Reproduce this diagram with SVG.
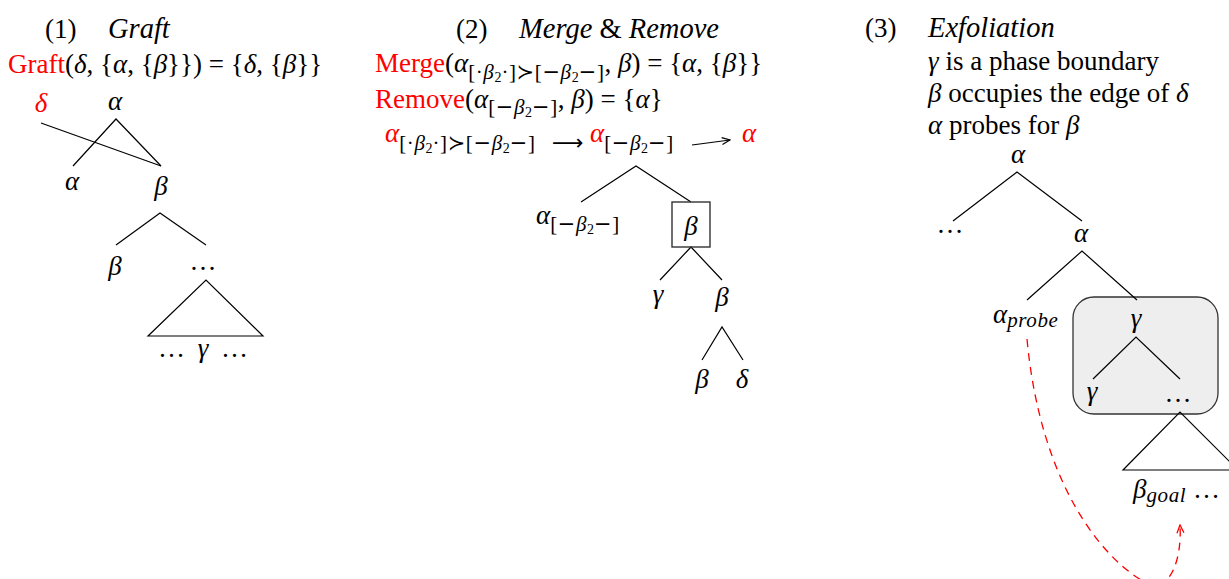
<svg xmlns="http://www.w3.org/2000/svg" width="1229" height="579" viewBox="0 0 1229 579">
<style>
.t{font-size:27px;fill:#000}
.h{font-size:28.5px}
.i{font-style:italic}
.r{fill:#ff0000}
.s{font-size:21px;letter-spacing:0.6px}
.ss{font-size:14px;letter-spacing:0}
.e{stroke:#000;stroke-width:1.2;fill:none}
.m{text-anchor:middle}
</style>
<defs>
<marker id="ahk" viewBox="0 0 10 10" refX="9" refY="5" markerWidth="10" markerHeight="10" markerUnits="userSpaceOnUse" orient="auto"><path d="M1,1.5 L9,5 L1,8.5" fill="none" stroke="#000" stroke-width="1.2"/></marker>
<marker id="ahr" viewBox="0 0 10 10" refX="9" refY="5" markerWidth="10" markerHeight="10" markerUnits="userSpaceOnUse" orient="auto"><path d="M1,1.5 L9,5 L1,8.5" fill="none" stroke="#ff0000" stroke-width="1.3"/></marker>
</defs>
<rect width="1229" height="579" fill="#fff"/>
<g font-family="Liberation Serif, DejaVu Serif, serif">

<!-- Panel 1 -->
<g id="p1-heading">
<text class="t" x="45" y="38">(1)</text>
<text class="t i h" x="108" y="38">Graft</text>
<text class="t" x="8" y="73"><tspan class="r">Graft</tspan>(<tspan class="i">δ</tspan>, {<tspan class="i">α</tspan>, {<tspan class="i">β</tspan>}}) = {<tspan class="i">δ</tspan>, {<tspan class="i">β</tspan>}}</text>
</g>

<!-- Panel 2 -->
<g id="p2-heading">
<text class="t" x="456" y="38">(2)</text>
<text class="t h" x="519" y="38"><tspan class="i">Merge</tspan> &amp; <tspan class="i">Remove</tspan></text>
<text class="t" x="375" y="72"><tspan class="r">Merge</tspan>(<tspan class="i">α</tspan><tspan class="s" dy="7">[·<tspan class="i">β</tspan><tspan class="ss" dy="3">2</tspan><tspan dy="-3">·]<tspan font-family="DejaVu Sans">≻</tspan>[<tspan font-family="DejaVu Sans">−</tspan></tspan><tspan class="i">β</tspan><tspan class="ss" dy="3">2</tspan><tspan dy="-3"><tspan font-family="DejaVu Sans">−</tspan>]</tspan></tspan><tspan dy="-7">, </tspan><tspan class="i">β</tspan>) = {<tspan class="i">α</tspan>, {<tspan class="i">β</tspan>}}</text>
<text class="t" x="375" y="108"><tspan class="r">Remove</tspan>(<tspan class="i">α</tspan><tspan class="s" dy="6">[<tspan font-family="DejaVu Sans">−</tspan><tspan class="i">β</tspan><tspan class="ss" dy="3">2</tspan><tspan dy="-3"><tspan font-family="DejaVu Sans">−</tspan>]</tspan></tspan><tspan dy="-6">, </tspan><tspan class="i">β</tspan>) = {<tspan class="i">α</tspan>}</text>
<text class="t" x="385" y="142"><tspan class="i r">α</tspan><tspan class="s" dy="8">[·<tspan class="i">β</tspan><tspan class="ss" dy="3">2</tspan><tspan dy="-3">·]<tspan font-family="DejaVu Sans">≻</tspan>[<tspan font-family="DejaVu Sans">−</tspan></tspan><tspan class="i">β</tspan><tspan class="ss" dy="3">2</tspan><tspan dy="-3"><tspan font-family="DejaVu Sans">−</tspan>]</tspan></tspan></text>
<text x="552" y="150" font-family="DejaVu Sans" font-size="22">⟶</text>
<text class="t" x="590" y="142"><tspan class="i r">α</tspan><tspan class="s" dy="8">[<tspan font-family="DejaVu Sans">−</tspan><tspan class="i">β</tspan><tspan class="ss" dy="3">2</tspan><tspan dy="-3"><tspan font-family="DejaVu Sans">−</tspan>]</tspan></tspan></text>
<text class="t i r" x="742" y="142">α</text>
</g>

<!-- Panel 3 -->
<g id="p3-heading">
<text class="t" x="865" y="37">(3)</text>
<text class="t i h" x="928" y="37">Exfoliation</text>
<text class="t" x="928" y="70"><tspan class="i">γ</tspan> is a phase boundary</text>
<text class="t" x="928" y="102"><tspan class="i">β</tspan> occupies the edge of <tspan class="i">δ</tspan></text>
<text class="t" x="928" y="134"><tspan class="i">α</tspan> probes for <tspan class="i">β</tspan></text>
</g>

<g id="phase-box">
<rect x="1073" y="297" width="145" height="117" rx="21" ry="21" fill="#eeeeee" stroke="#333" stroke-width="1.3"/>
</g>

<g id="connectors">
<path class="e" d="M73,166 L116,119 L161,166"/>
<path class="e" d="M41,123 L161,166"/>
<path class="e" d="M116,245 L160,213 L206,245"/>
<path class="e" d="M148,336 L206,280 L263,336 Z"/>
<path class="e" d="M581,202 L636,166 L691,202"/>
<path class="e" d="M660,280 L691,247 L722,280"/>
<path class="e" d="M702,360 L722,327 L743,360"/>
<path class="e" d="M692,145 L730,140" marker-end="url(#ahk)"/>
<path class="e" d="M953,221 L1017,172 L1082,221"/>
<path class="e" d="M1027,300 L1082,251 L1137,300"/>
<path class="e" d="M1093,379 L1136,337 L1180,379"/>
<path class="e" d="M1123,470 L1180,412 L1238,470 Z"/>
<path d="M1027,339 C1040,480 1100,560 1150,585 C1170,590 1182,560 1180,525" fill="none" stroke="#ff0000" stroke-width="1.3" stroke-dasharray="8,6" marker-end="url(#ahr)"/>
</g>

<g id="t1-delta"><text class="t i r m" x="41" y="112">δ</text></g>
<g id="t1-alpha"><text class="t i m" x="115" y="110">α</text></g>
<g id="t1-alpha2"><text class="t i m" x="72" y="190">α</text></g>
<g id="t1-beta"><text class="t i m" x="161" y="195">β</text></g>
<g id="t1-beta2"><text class="t i m" x="115" y="275">β</text></g>
<g id="t1-dots"><text class="t m" x="203" y="270">…</text></g>
<g id="t1-tri"><text class="t m" x="203" y="357" word-spacing="6">… <tspan class="i">γ</tspan> …</text></g>

<g id="t2-alpha"><text class="t" x="536" y="224"><tspan class="i">α</tspan><tspan class="s" dy="7">[<tspan font-family="DejaVu Sans">−</tspan><tspan class="i">β</tspan><tspan class="ss" dy="3">2</tspan><tspan dy="-3"><tspan font-family="DejaVu Sans">−</tspan>]</tspan></tspan></text></g>
<g id="t2-beta-box"><rect x="672" y="202" width="38" height="45" fill="none" stroke="#333" stroke-width="1.4"/><text class="t i m" x="691" y="235">β</text></g>
<g id="t2-gamma"><text class="t i m" x="658" y="303">γ</text></g>
<g id="t2-beta"><text class="t i m" x="722" y="306">β</text></g>
<g id="t2-beta2"><text class="t i m" x="702" y="388">β</text></g>
<g id="t2-delta"><text class="t i m" x="742" y="388">δ</text></g>

<g id="t3-alpha"><text class="t i m" x="1018" y="163">α</text></g>
<g id="t3-dots"><text class="t m" x="950" y="233">…</text></g>
<g id="t3-alpha2"><text class="t i m" x="1081" y="242">α</text></g>
<g id="t3-probe"><text class="t i" x="993" y="323">α<tspan class="s" dy="4">probe</tspan></text></g>
<g id="t3-gamma"><text class="t i m" x="1136" y="327">γ</text></g>
<g id="t3-gamma2"><text class="t i m" x="1092" y="400">γ</text></g>
<g id="t3-dots2"><text class="t m" x="1178" y="402">…</text></g>
<g id="t3-goal"><text class="t" x="1133" y="498"><tspan class="i">β</tspan><tspan class="s i" dy="4">goal</tspan><tspan dy="-4"> …</tspan></text></g>
</g>
</svg>
